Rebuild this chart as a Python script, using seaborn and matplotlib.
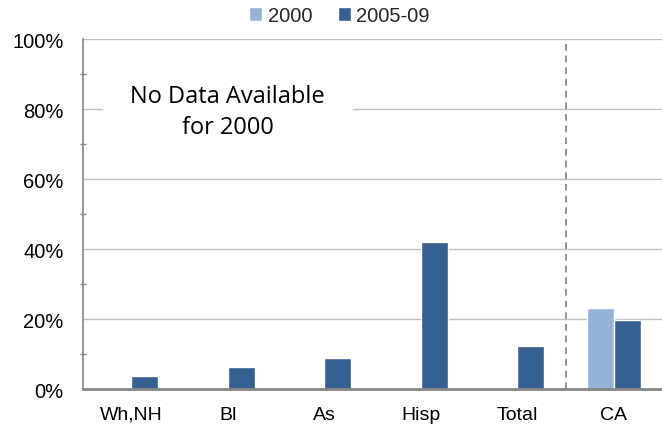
import numpy as np
import pandas as pd
import seaborn as sns
import matplotlib.pyplot as plt
from matplotlib.ticker import MultipleLocator, PercentFormatter

groups = ["Wh,NH", "Bl", "As", "Hisp", "Total", "CA"]
vals_2000 = [np.nan, np.nan, np.nan, np.nan, np.nan, 23.1]
vals_0509 = [3.6, 6.2, 8.8, 42.0, 12.2, 19.6]
series = ["2000", "2005-09"]
colors = ["#95B3D7", "#366092"]

df = pd.DataFrame({
    "group": groups * 2,
    "pct": vals_2000 + vals_0509,
    "period": [series[0]] * len(groups) + [series[1]] * len(groups),
})

sns.set_style("white")
plt.rcParams["font.family"] = "sans-serif"
plt.rcParams["font.sans-serif"] = ["Liberation Sans", "DejaVu Sans"]

fig = plt.figure(figsize=(6.62, 4.35), dpi=100)
ax = fig.add_axes([0.1254, 0.1034, 0.8746, 0.8046])

sns.barplot(data=df, x="group", y="pct", hue="period", hue_order=series,
            palette=colors, width=0.56, saturation=1, ax=ax, legend=True)

ax.set_ylim(0, 100)
ax.set_xlim(-0.5, 5.5)
ax.yaxis.set_major_locator(MultipleLocator(20))
ax.yaxis.set_minor_locator(MultipleLocator(10))
ax.yaxis.set_major_formatter(PercentFormatter(decimals=0))
ax.grid(axis="y", which="major", color="#c0c0c0", lw=1)
ax.set_axisbelow(True)
ax.set_xlabel("")
ax.set_ylabel("")

for s in ["top", "right"]:
    ax.spines[s].set_visible(False)
ax.spines["left"].set_color("#868686")
ax.spines["left"].set_linewidth(1.2)
ax.spines["bottom"].set_color("#868686")
ax.spines["bottom"].set_linewidth(2)

ax.tick_params(axis="y", which="major", length=5, width=1, color="#868686",
               direction="out", labelsize=14.5, pad=9, labelcolor="black")
ax.tick_params(axis="y", which="minor", length=5, width=1, color="#868686",
               direction="inout", left=True)
ax.tick_params(axis="x", length=0, labelsize=14, pad=12, labelcolor="black")

ax.axvline(4.5, color="#808080", lw=1.2, ls=(0, (4, 3)))

ax.text(1.0, 79.3, "No Data Available\nfor 2000", ha="center", va="center",
        fontsize=17, family=["Open Sans", "DejaVu Sans"], linespacing=1.35,
        color="black",
        bbox=dict(facecolor="white", edgecolor="none", pad=20))

leg = ax.legend(loc="center", bbox_to_anchor=(0.513, 0.962),
                bbox_transform=fig.transFigure, ncol=2,
                frameon=False, fontsize=14.5, handlelength=0.65, handleheight=0.65,
                handletextpad=0.25, columnspacing=1.3, borderaxespad=0)

fig.savefig("out.png", dpi=100)
